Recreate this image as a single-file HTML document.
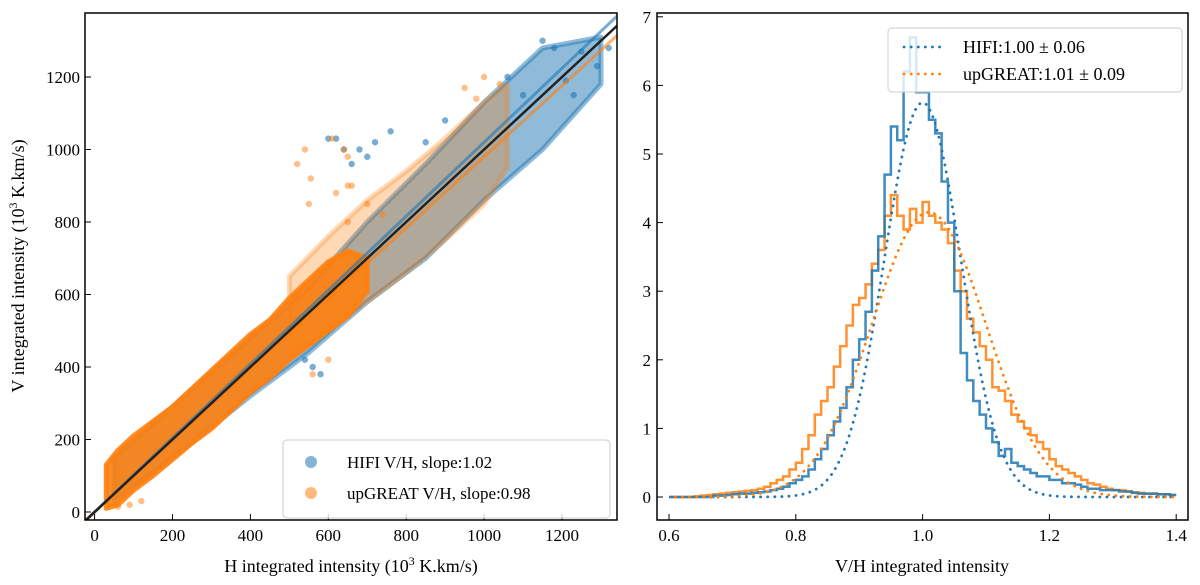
<!DOCTYPE html>
<html><head><meta charset="utf-8"><style>
body{margin:0;background:#fff}
svg{display:block;font-family:"Liberation Serif",serif}
</style></head><body>
<svg id="s" width="1200" height="585" viewBox="0 0 1200 585" xmlns="http://www.w3.org/2000/svg">
<g id="L"></g>
<g id="R"></g>
</svg>
<script>
// ---- left scatter data ----
const xTicksL=[0,200,400,600,800,1000,1200];
const yTicksL=[0,200,400,600,800,1000,1200];
const orangeEnvH=[30,60,100,150,200,250,300,350,400,450,500,550,600,650,700];
const orangeEnvLo=[10,20,60,100,145,190,230,280,330,370,420,460,500,540,610];
const orangeEnvHi=[130,170,210,250,290,340,390,440,490,530,590,640,690,720,700];
const orangeOutH=[500,600,700,800,900,1000,1060];
const orangeOutLo=[430,500,580,660,750,850,950];
const orangeOutHi=[650,760,860,940,1030,1130,1180];
const blueEnvH=[50,200,400,550,700,850,1000,1150,1300];
const blueEnvLo=[30,150,320,440,580,700,860,1000,1180];
const blueEnvHi=[150,290,480,620,800,960,1130,1280,1310];
const blueOutX=[620,640,700,660,720,760,1150,1180,1210,1250,1290,1100,1060,900,850,560,540,580,600,680,1230,1320];
const blueOutY=[1030,1000,980,960,1020,1050,1300,1280,1190,1270,1230,1150,1200,1080,1020,400,420,380,1030,1000,1150,1280];
const orangeOutX=[520,540,610,640,620,660,700,740,1000,1040,980,950,560,600,90,60,120,650,650,650,550,555];
const orangeOutY=[960,1000,1030,1000,880,900,850,820,1200,1180,1140,1170,380,420,20,15,30,800,900,980,850,920];
const slopes=[1.02,0.98];
// ---- right histogram data ----
const binStart=0.60, binW=0.01;
const hifiHist=[0,0,0,0,0,0,0,0.02,0.02,0.03,
0.04,0.05,0.05,0.06,0.07,0.08,0.1,0.12,0.15,0.2,
0.25,0.3,0.4,0.55,0.7,0.9,1.1,1.3,1.6,2.0,
2.3,2.7,3.3,3.8,4.7,5.4,5.2,6.2,6.7,5.9,
5.9,5.5,5.3,4.6,4.0,3.0,2.1,1.7,1.4,1.2,
1.0,0.8,0.6,0.7,0.5,0.45,0.4,0.35,0.3,0.3,
0.25,0.25,0.2,0.2,0.18,0.15,0.12,0.12,0.1,0.1,
0.1,0.08,0.08,0.06,0.05,0.05,0.05,0.04,0.04,0.03];
const greatHist=[0,0,0,0,0.01,0.02,0.03,0.04,0.05,0.06,
0.07,0.08,0.09,0.1,0.12,0.15,0.2,0.25,0.3,0.4,
0.5,0.7,0.9,1.2,1.4,1.6,1.9,2.2,2.5,2.8,
2.9,3.1,3.4,3.6,4.1,4.4,4.1,3.9,4.2,4.0,
4.3,4.1,4.0,3.9,3.7,3.3,3.0,2.6,2.4,2.2,
2.0,1.6,1.55,1.4,1.2,1.1,1.0,0.9,0.8,0.7,
0.55,0.45,0.4,0.35,0.3,0.25,0.2,0.18,0.15,0.12,
0.1,0.1,0.08,0.07,0.06,0.05,0.05,0.04,0.04,0.03];
const fitMean=[1.00,1.01], fitSigma=[0.06,0.09], fitAmp=[5.75,4.15];
const xTicksR=[0.6,0.8,1.0,1.2,1.4];
const yTicksR=[0,1,2,3,4,5,6,7];

const NS="http://www.w3.org/2000/svg";
function mk(parent,tag,attrs){const e=document.createElementNS(NS,tag);for(const k in attrs)e.setAttribute(k,attrs[k]);parent.appendChild(e);return e;}
const BLUE="#1f77b4",ORANGE="#ff7f0e";

// ===== Left =====
const L=document.getElementById('L');
const XL=h=>94.6+h*0.3895, YL=v=>512-v*0.3625;
mk(L,'defs',{}).innerHTML='<clipPath id="cl"><rect x="85" y="13" width="532" height="507"/></clipPath>';
const gL=mk(L,'g',{'clip-path':'url(#cl)'});
function bandG(H,lo,hi,color,op,name){
  let pts=H.map((h,i)=>XL(h)+','+YL(hi[i]));
  for(let i=H.length-1;i>=0;i--)pts.push(XL(H[i])+','+YL(lo[i]));
  const p=mk(gL,'polygon',{points:pts.join(' '),fill:color,'fill-opacity':op,stroke:color,'stroke-opacity':op,'stroke-width':5,'stroke-linejoin':'round'});
  
  
}
bandG(blueEnvH,blueEnvLo,blueEnvHi,BLUE,0.5,'hifi-scatter-cloud');
blueOutX.forEach((x,i)=>{const c=mk(gL,'circle',{cx:XL(x),cy:YL(blueOutY[i]),r:3.2,fill:BLUE,'fill-opacity':0.6});

});
bandG(orangeOutH,orangeOutLo,orangeOutHi,ORANGE,0.3,'upgreat-scatter-sparse');
bandG(orangeEnvH,orangeEnvLo,orangeEnvHi,ORANGE,0.9,'upgreat-scatter-cloud');
orangeOutX.forEach((x,i)=>{const c=mk(gL,'circle',{cx:XL(x),cy:YL(orangeOutY[i]),r:3.2,fill:ORANGE,'fill-opacity':0.5});

});
[[slopes[0],BLUE],[slopes[1],ORANGE]].forEach(([m,c],i)=>{
  const l=mk(gL,'line',{x1:XL(-30),y1:YL(-30*m),x2:XL(1400),y2:YL(1400*m),stroke:c,'stroke-width':3,'stroke-opacity':0.6});
  
  
});
{const l=mk(gL,'line',{x1:XL(-30),y1:YL(-30),x2:XL(1400),y2:YL(1400),stroke:'#222','stroke-width':2.5});

}
mk(L,'rect',{x:85,y:13,width:532,height:507,fill:'none',stroke:'#000','stroke-width':1.5});
xTicksL.forEach(t=>{mk(L,'line',{x1:XL(t),x2:XL(t),y1:520,y2:514,stroke:'#000'});
 const e=mk(L,'text',{x:XL(t),y:541,'text-anchor':'middle','font-size':17});e.textContent=t;
 
 });
yTicksL.forEach(t=>{mk(L,'line',{x1:85,x2:91,y1:YL(t),y2:YL(t),stroke:'#000'});
 const e=mk(L,'text',{x:80,y:YL(t)+6,'text-anchor':'end','font-size':17});e.textContent=t;
 
 });
// ===== Right =====
const R=document.getElementById('R');
const XR=v=>669+(v-0.6)*634, YR=v=>497-v*68.6;
mk(R,'defs',{}).innerHTML='<clipPath id="cr"><rect x="657" y="13" width="531" height="507"/></clipPath>';
const gR=mk(R,'g',{'clip-path':'url(#cr)'});
function step(h,c,name){
  let d='M'+XR(binStart)+','+YR(h[0]);
  h.forEach((v,i)=>{d+=' L'+XR(binStart+i*binW)+','+YR(v)+' L'+XR(binStart+(i+1)*binW)+','+YR(v);});
  const p=mk(gR,'path',{d:d,fill:'none',stroke:c,'stroke-width':2.5,'stroke-opacity':0.85});
  
  
}
step(greatHist,ORANGE,'upgreat-histogram');
step(hifiHist,BLUE,'hifi-histogram');
[BLUE,ORANGE].forEach((c,k)=>{
  let d='';
  for(let x=0.61;x<=1.4001;x+=0.005){const y=fitAmp[k]*Math.exp(-0.5*((x-fitMean[k])/fitSigma[k])**2);d+=(d?' L':'M')+XR(x)+','+YR(y);}
  const p=mk(gR,'path',{d:d,fill:'none',stroke:c,'stroke-width':2.8,'stroke-dasharray':'0.1 7','stroke-linecap':'round'});
  
  
});
mk(R,'rect',{x:657,y:13,width:531,height:507,fill:'none',stroke:'#000','stroke-width':1.5});
xTicksR.forEach(t=>{mk(R,'line',{x1:XR(t),x2:XR(t),y1:520,y2:514,stroke:'#000'});
 const e=mk(R,'text',{x:XR(t),y:541,'text-anchor':'middle','font-size':17});e.textContent=t.toFixed(1);
 
 });
yTicksR.forEach(t=>{mk(R,'line',{x1:657,x2:663,y1:YR(t),y2:YR(t),stroke:'#000'});
 const e=mk(R,'text',{x:651,y:YR(t)+6,'text-anchor':'end','font-size':17});e.textContent=t;
 
 });
</script>
<svg width="1200" height="585" style="position:absolute;left:0;top:0" font-family="Liberation Serif, serif">
<text x="351" y="572" text-anchor="middle" font-size="18">H integrated intensity (10<tspan dy="-7" font-size="12">3</tspan><tspan dy="7"> K.km/s)</tspan></text>
<text transform="translate(24,266) rotate(-90)" text-anchor="middle" font-size="18">V integrated intensity (10<tspan dy="-7" font-size="12">3</tspan><tspan dy="7"> K.km/s)</tspan></text>
<text x="922" y="572" text-anchor="middle" font-size="18">V/H integrated intensity</text>
<g>
<rect x="283" y="440" width="327" height="78" rx="4" fill="#fff" fill-opacity="0.8" stroke="#ccc"/>
<circle cx="311" cy="462" r="6" fill="#1f77b4" fill-opacity="0.55"/>
<text x="347" y="468" font-size="17">HIFI V/H, slope:1.02</text>
<circle cx="311" cy="493" r="6" fill="#ff7f0e" fill-opacity="0.55"/>
<text x="347" y="499" font-size="17">upGREAT V/H, slope:0.98</text>
</g>
<g>
<rect x="888" y="28" width="294" height="64" rx="4" fill="#fff" fill-opacity="0.8" stroke="#ccc"/>
<line x1="904" y1="47" x2="946" y2="47" stroke="#1f77b4" stroke-width="2.8" stroke-dasharray="0.1 7" stroke-linecap="round"/>
<text x="963" y="53" font-size="18">HIFI:1.00 ± 0.06</text>
<line x1="904" y1="74" x2="946" y2="74" stroke="#ff7f0e" stroke-width="2.8" stroke-dasharray="0.1 7" stroke-linecap="round"/>
<text x="963" y="80" font-size="18">upGREAT:1.01 ± 0.09</text>
</g>
</svg>
</body></html>
